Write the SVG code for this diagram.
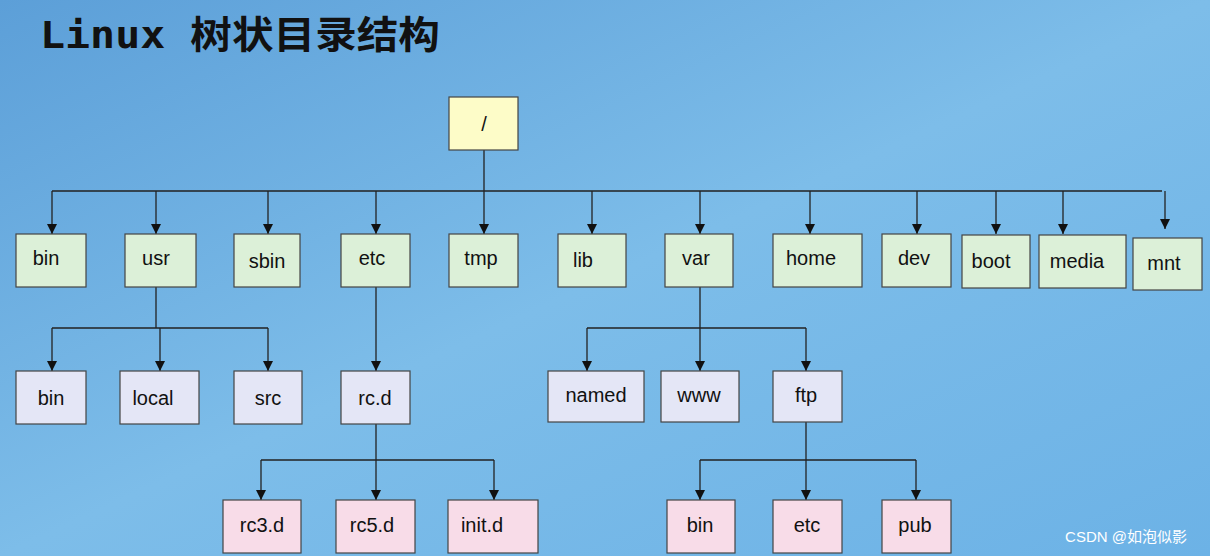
<svg xmlns="http://www.w3.org/2000/svg" width="1210" height="556" viewBox="0 0 1210 556">
<defs>
<linearGradient id="bg" x1="0" y1="0" x2="1" y2="1">
<stop offset="0" stop-color="#5c9fd8"/><stop offset="0.5" stop-color="#7dbde9"/><stop offset="1" stop-color="#6cb2e6"/>
</linearGradient>
<marker id="ar" viewBox="0 0 10 10" refX="10" refY="5" markerWidth="10" markerHeight="10" markerUnits="userSpaceOnUse" orient="auto"><path d="M0,0 L10,5 L0,10 z" fill="#111"/></marker>
<style>
.b{stroke:#444;stroke-width:1.2}
.g{fill:#dcf0d8}.l{fill:#e4e6f6}.p{fill:#f8dce8}.y{fill:#fdfcc8}
text{font-family:"Liberation Sans",Arial,sans-serif;font-size:20px;fill:#111;text-anchor:middle}
.c path{fill:none;stroke:#222;stroke-width:1.3}
.c .a{marker-end:url(#ar)}
</style>
</defs>
<rect width="1210" height="556" fill="url(#bg)"/>
<text x="40" y="48" style="font-family:'DejaVu Sans Mono','Noto Sans CJK SC',monospace;font-size:38px;font-weight:bold;text-anchor:start" textLength="400" lengthAdjust="spacingAndGlyphs">Linux 树状目录结构</text>
<g class="c">
<path d="M484,150 V191 M52,191 H1162"/>
<path class="a" d="M52,191 V234"/><path class="a" d="M156,191 V234"/><path class="a" d="M268,191 V234"/><path class="a" d="M376,191 V234"/><path class="a" d="M484,191 V234"/><path class="a" d="M592,191 V234"/><path class="a" d="M700,191 V234"/><path class="a" d="M810,191 V234"/><path class="a" d="M917,191 V234"/><path class="a" d="M996,191 V234"/><path class="a" d="M1063,191 V234"/><path class="a" d="M1165,191 V229"/>
<path d="M156,287 V328 M52,328 H268"/>
<path class="a" d="M52,328 V371"/><path class="a" d="M160,328 V371"/><path class="a" d="M268,328 V371"/>
<path class="a" d="M376,287 V371"/>
<path d="M376,424 V460 M261,460 H494"/>
<path class="a" d="M261,460 V500"/><path class="a" d="M376,460 V500"/><path class="a" d="M494,460 V500"/>
<path d="M700,287 V328 M587,328 H806"/>
<path class="a" d="M587,328 V371"/><path class="a" d="M700,328 V371"/><path class="a" d="M806,328 V371"/>
<path d="M806,422 V460 M700,460 H916"/>
<path class="a" d="M700,460 V500"/><path class="a" d="M806,460 V500"/><path class="a" d="M916,460 V500"/>
</g>
<g id="root"><rect class="b y" x="449" y="97" width="69" height="53"/><text x="484" y="131">/</text></g>
<g id="bin"><rect class="b g" x="16" y="234" width="70" height="53"/><text x="46" y="265">bin</text></g>
<g id="usr"><rect class="b g" x="125" y="234" width="71" height="53"/><text x="156" y="265">usr</text></g>
<g id="sbin"><rect class="b g" x="234" y="234" width="66" height="53"/><text x="267" y="268">sbin</text></g>
<g id="etc"><rect class="b g" x="341" y="234" width="69" height="53"/><text x="372" y="265">etc</text></g>
<g id="tmp"><rect class="b g" x="449" y="234" width="69" height="53"/><text x="481" y="265">tmp</text></g>
<g id="lib"><rect class="b g" x="558" y="234" width="68" height="53"/><text x="583" y="267">lib</text></g>
<g id="var"><rect class="b g" x="665" y="234" width="68" height="53"/><text x="696" y="265">var</text></g>
<g id="home"><rect class="b g" x="773" y="234" width="89" height="53"/><text x="811" y="265">home</text></g>
<g id="dev"><rect class="b g" x="882" y="234" width="69" height="53"/><text x="914" y="265">dev</text></g>
<g id="boot"><rect class="b g" x="962" y="235" width="68" height="53"/><text x="991" y="268">boot</text></g>
<g id="media"><rect class="b g" x="1039" y="235" width="87" height="53"/><text x="1077" y="268">media</text></g>
<g id="mnt"><rect class="b g" x="1133" y="238" width="69" height="52"/><text x="1164" y="270">mnt</text></g>
<g id="usr-bin"><rect class="b l" x="16" y="371" width="70" height="53"/><text x="51" y="405">bin</text></g>
<g id="local"><rect class="b l" x="120" y="371" width="79" height="53"/><text x="153" y="405">local</text></g>
<g id="src"><rect class="b l" x="234" y="371" width="68" height="53"/><text x="268" y="405">src</text></g>
<g id="rcd"><rect class="b l" x="341" y="371" width="69" height="53"/><text x="375" y="405">rc.d</text></g>
<g id="named"><rect class="b l" x="548" y="371" width="96" height="51"/><text x="596" y="402">named</text></g>
<g id="www"><rect class="b l" x="661" y="371" width="78" height="51"/><text x="699" y="402">www</text></g>
<g id="ftp"><rect class="b l" x="773" y="371" width="69" height="51"/><text x="806" y="402">ftp</text></g>
<g id="rc3d"><rect class="b p" x="223" y="500" width="78" height="53"/><text x="262" y="532">rc3.d</text></g>
<g id="rc5d"><rect class="b p" x="336" y="500" width="79" height="53"/><text x="372" y="532">rc5.d</text></g>
<g id="initd"><rect class="b p" x="448" y="500" width="90" height="53"/><text x="482" y="532">init.d</text></g>
<g id="ftp-bin"><rect class="b p" x="667" y="500" width="68" height="53"/><text x="700" y="532">bin</text></g>
<g id="ftp-etc"><rect class="b p" x="773" y="500" width="69" height="53"/><text x="807" y="532">etc</text></g>
<g id="pub"><rect class="b p" x="882" y="500" width="69" height="53"/><text x="915" y="532">pub</text></g>
<text x="1126" y="542" style="font-family:'Liberation Sans','Noto Sans CJK SC',sans-serif;font-size:15px;fill:#fff">CSDN @如泡似影</text>
</svg>
